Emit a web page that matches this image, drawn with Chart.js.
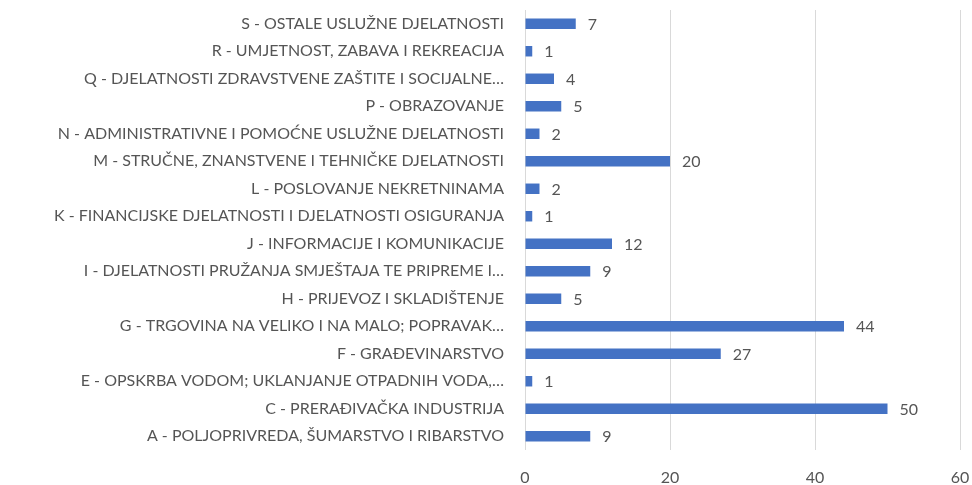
<!DOCTYPE html>
<html lang="hr">
<head>
<meta charset="utf-8" />
<title>Djelatnosti</title>
<script src="https://cdn.jsdelivr.net/npm/chart.js@4.4.0/dist/chart.umd.min.js"></script>
<style>
  html, body { margin: 0; padding: 0; background: #fff; }
  #wrap { width: 972px; height: 485px; position: relative; }
</style>
</head>
<body>
<div id="wrap"><canvas id="chart"></canvas></div>
<script>
    // Podaci s grafikona (od vrha prema dnu)
    const categories = [
        'S - OSTALE USLUŽNE DJELATNOSTI',
        'R - UMJETNOST, ZABAVA I REKREACIJA',
        'Q - DJELATNOSTI ZDRAVSTVENE ZAŠTITE I SOCIJALNE…',
        'P - OBRAZOVANJE',
        'N - ADMINISTRATIVNE I POMOĆNE USLUŽNE DJELATNOSTI',
        'M - STRUČNE, ZNANSTVENE I TEHNIČKE DJELATNOSTI',
        'L - POSLOVANJE NEKRETNINAMA',
        'K - FINANCIJSKE DJELATNOSTI I DJELATNOSTI OSIGURANJA',
        'J - INFORMACIJE I KOMUNIKACIJE',
        'I - DJELATNOSTI PRUŽANJA SMJEŠTAJA TE PRIPREME I…',
        'H - PRIJEVOZ I SKLADIŠTENJE',
        'G - TRGOVINA NA VELIKO I NA MALO; POPRAVAK…',
        'F - GRAĐEVINARSTVO',
        'E - OPSKRBA VODOM; UKLANJANJE OTPADNIH VODA,…',
        'C - PRERAĐIVAČKA INDUSTRIJA',
        'A - POLJOPRIVREDA, ŠUMARSTVO I RIBARSTVO'
    ];
    const counts = [7, 1, 4, 5, 2, 20, 2, 1, 12, 9, 5, 44, 27, 1, 50, 9];
    const xTicks = [0, 20, 40, 60];

    const textColor = '#555555';
    const fontFamily = 'Lato, "Open Sans", sans-serif';

    // Oznake vrijednosti desno od stupaca
    const valueLabels = {
        id: 'valueLabels',
        afterDatasetsDraw(chart) {
            const ctx = chart.ctx;
            const meta = chart.getDatasetMeta(0);
            ctx.save();
            ctx.fillStyle = textColor;
            ctx.font = '16px ' + fontFamily;
            ctx.textAlign = 'left';
            ctx.textBaseline = 'middle';
            meta.data.forEach((bar, i) => {
                ctx.fillText(String(counts[i]), bar.x + 12, bar.y + 1);
            });
            ctx.restore();
        }
    };

    function noPad(scale) {
        scale.paddingTop = 0;
        scale.paddingBottom = 0;
        scale.paddingLeft = 0;
        scale.paddingRight = 0;
    }

    new Chart(document.getElementById('chart'), {
        type: 'bar',
        data: {
            labels: categories,
            datasets: [{
                data: counts,
                backgroundColor: '#4472C4',
                barPercentage: 0.38,
                categoryPercentage: 1
            }]
        },
        options: {
            indexAxis: 'y',
            responsive: true,
            maintainAspectRatio: false,
            animation: false,
            layout: { padding: { top: 10, right: 12, left: 0, bottom: 0 } },
            plugins: {
                legend: { display: false },
                tooltip: { enabled: false }
            },
            scales: {
                x: {
                    min: 0,
                    max: 60,
                    afterBuildTicks(scale) {
                        scale.ticks = xTicks.map(v => ({ value: v }));
                    },
                    afterFit(scale) { scale.height = 35; noPad(scale); },
                    grid: { color: '#d9d9d9', drawTicks: false },
                    border: { display: false },
                    ticks: { color: textColor, font: { family: fontFamily, size: 16 }, padding: 18 }
                },
                y: {
                    afterFit(scale) { scale.width = 525; noPad(scale); },
                    grid: { display: false },
                    border: { display: false },
                    ticks: { color: textColor, font: { family: fontFamily, size: 16 }, padding: 13, autoSkip: false }
                }
            }
        },
        plugins: [valueLabels]
    });
</script>
</body>
</html>
